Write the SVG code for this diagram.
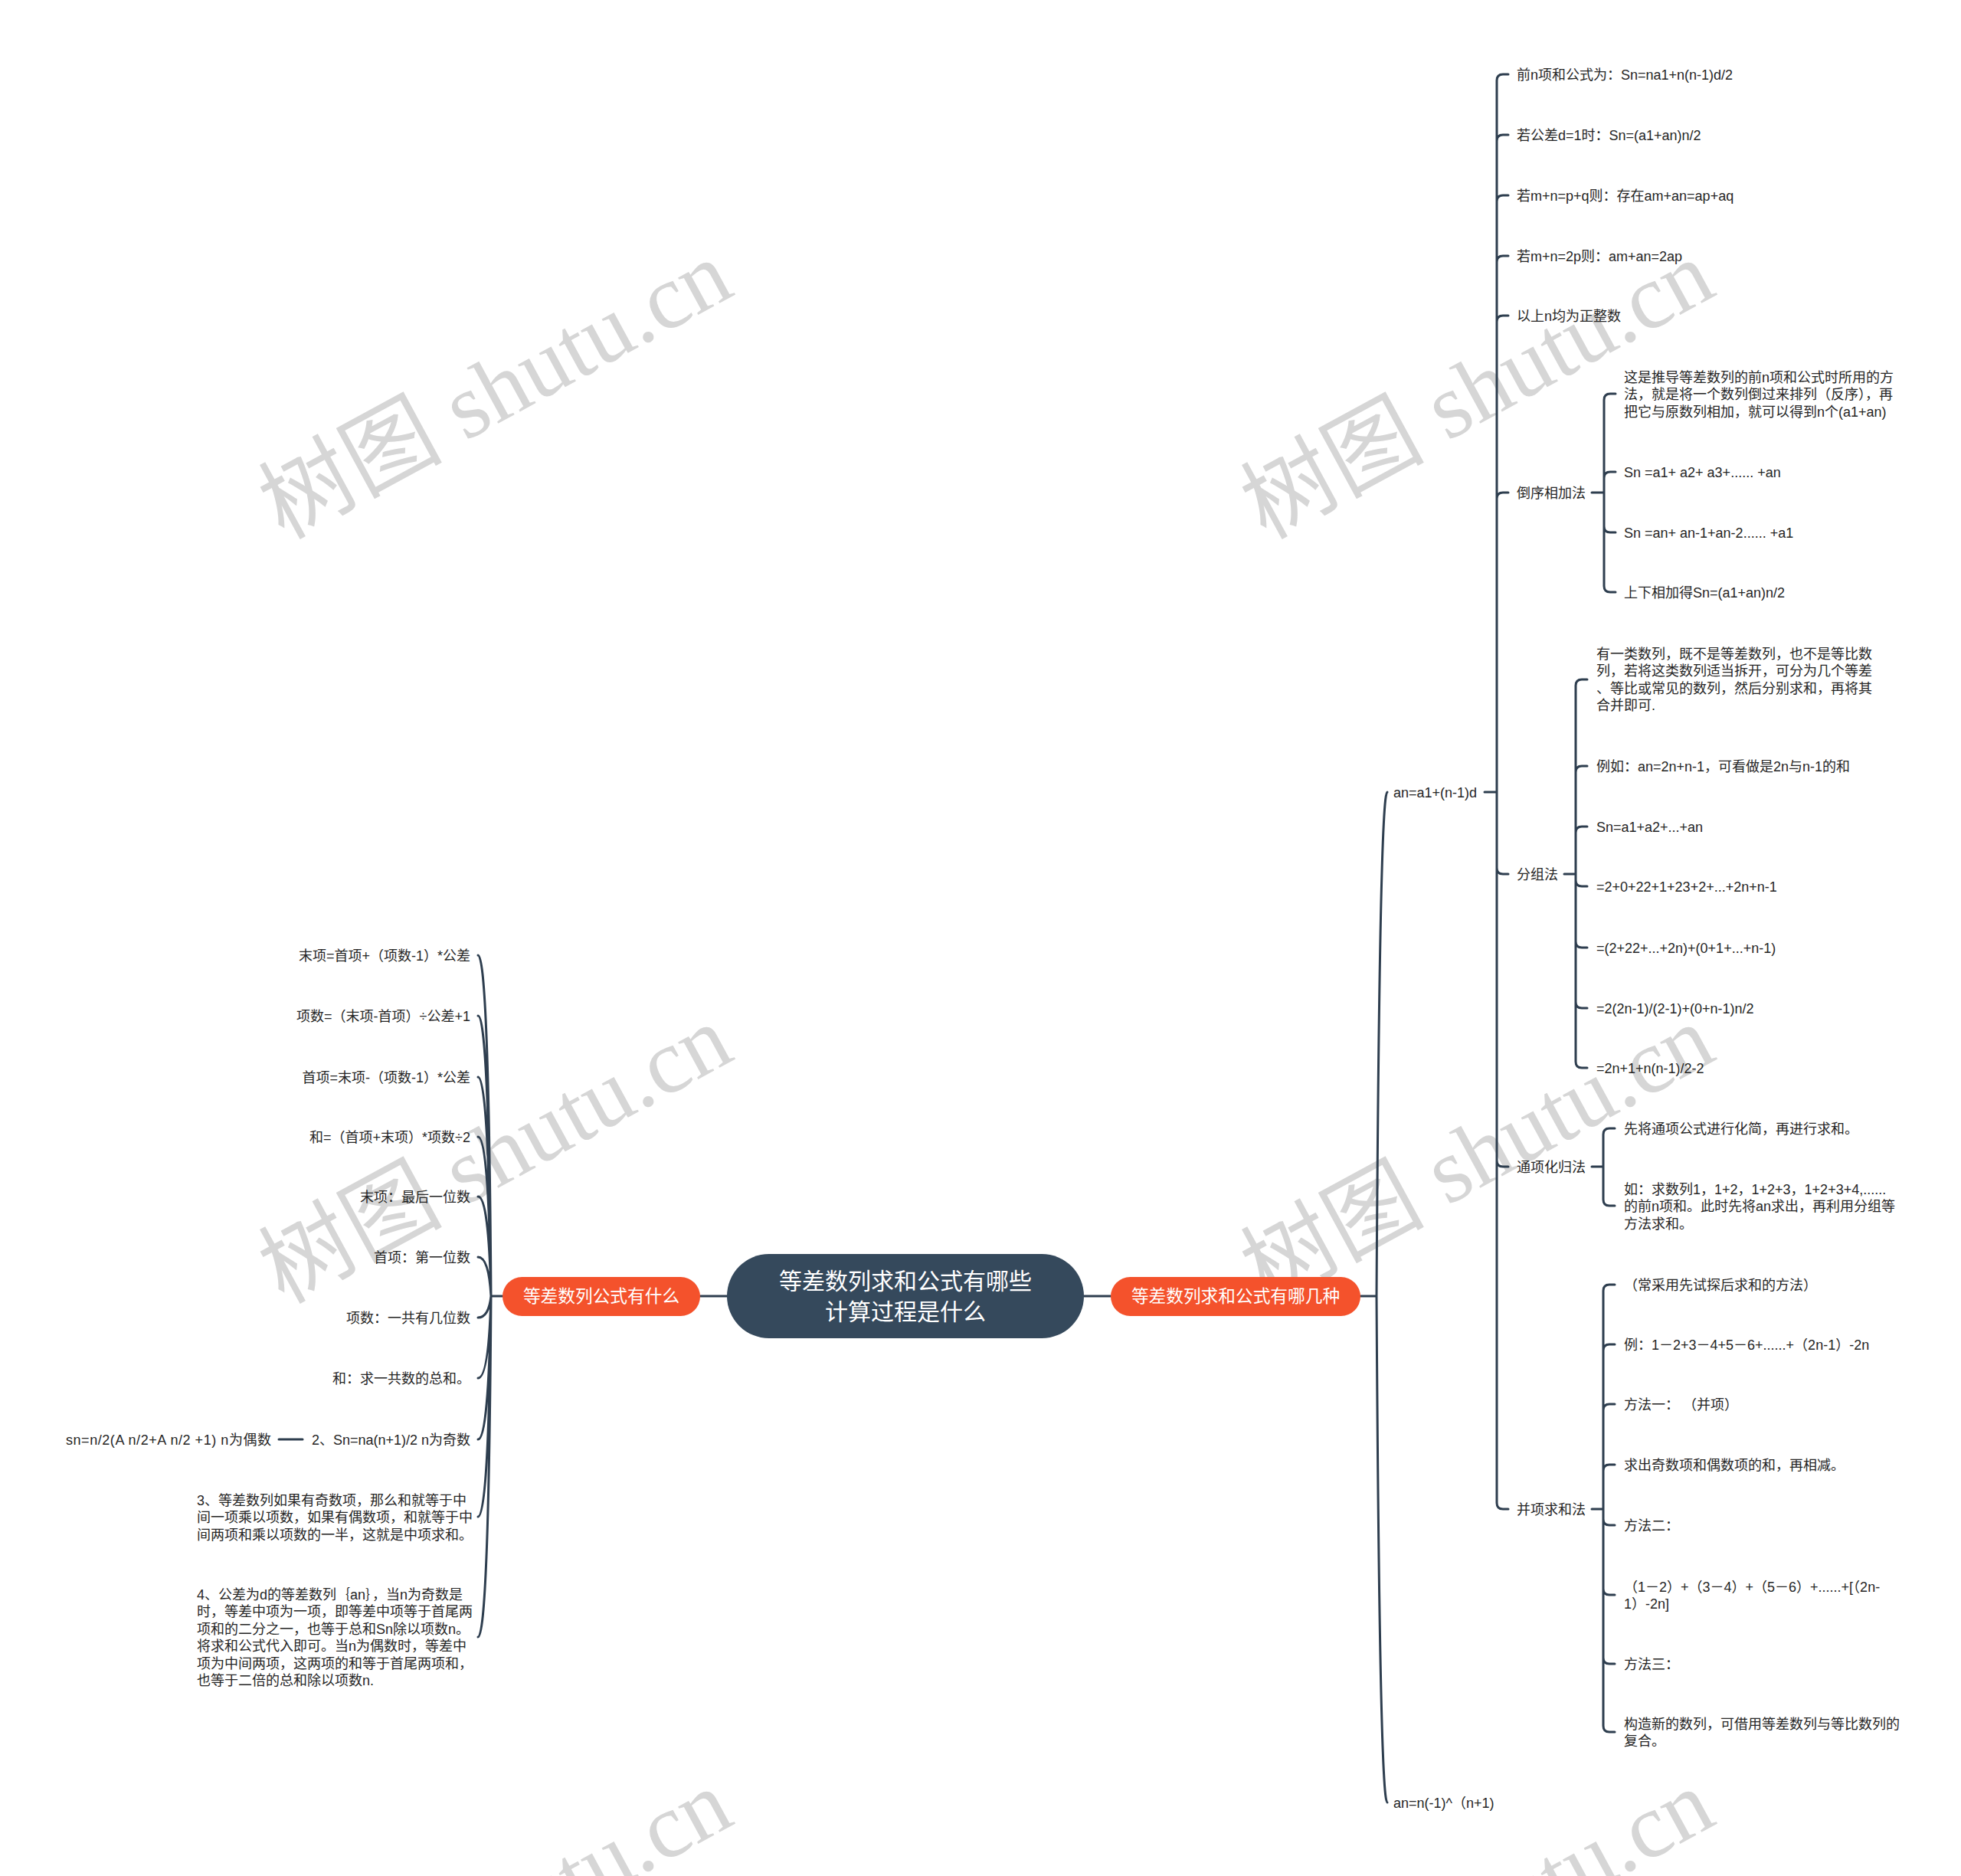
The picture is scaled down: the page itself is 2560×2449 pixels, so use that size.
<svg xmlns="http://www.w3.org/2000/svg" width="2560" height="2449" viewBox="0 0 2560 2449">
<style>
.t{font-family:"Liberation Sans","Noto Sans CJK SC",sans-serif;font-size:18px;fill:#262626}
.e{text-anchor:end}
.c{fill:none;stroke:#2e3e4f;stroke-width:3;stroke-linecap:round}
.wm{font-family:"Liberation Serif","Noto Sans CJK SC",serif;font-size:120px;fill:#d6d6d6}
.ow{font-family:"Liberation Sans","Noto Sans CJK SC",sans-serif;fill:#ffffff;text-anchor:middle}
.org{fill:#f4522c}
</style>
<rect width="2560" height="2449" fill="#ffffff"/>
<g id="watermarks">
<text class="wm" transform="translate(370 705) rotate(-28.5)">树图 shutu.cn</text>
<text class="wm" transform="translate(1652 705) rotate(-28.5)">树图 shutu.cn</text>
<text class="wm" transform="translate(370 1703) rotate(-28.5)">树图 shutu.cn</text>
<text class="wm" transform="translate(1652 1703) rotate(-28.5)">树图 shutu.cn</text>
<text class="wm" transform="translate(370 2701) rotate(-28.5)">树图 shutu.cn</text>
<text class="wm" transform="translate(1652 2701) rotate(-28.5)">树图 shutu.cn</text>
</g>
<g id="connectors">
<path class="c" d="M914 1692H949M1415 1692H1450"/>
<path class="c" d="M1776 1692H1797M1797 1692Q1801 1034 1811 1034M1797 1692Q1801 2353 1811 2353"/>
<path class="c" d="M1938 1034H1954M1954 1034V105Q1954 97 1962 97H1969M1954 1034V184Q1954 176 1962 176H1969M1954 1034V263Q1954 255 1962 255H1969M1954 1034V342Q1954 334 1962 334H1969M1954 1034V420Q1954 412 1962 412H1969M1954 1034V651Q1954 643 1962 643H1969M1954 1034V1133Q1954 1141 1962 1141H1969M1954 1034V1515Q1954 1523 1962 1523H1969M1954 1034V1962Q1954 1970 1962 1970H1969"/>
<path class="c" d="M2078 643H2094M2094 643V522Q2094 514 2102 514H2109M2094 643V624Q2094 616 2102 616H2109M2094 643V687Q2094 695 2102 695H2109M2094 643V765Q2094 773 2102 773H2109"/>
<path class="c" d="M2042 1141H2057M2057 1141V895Q2057 887 2065 887H2072M2057 1141V1008Q2057 1000 2065 1000H2072M2057 1141V1087Q2057 1079 2065 1079H2072M2057 1141V1149Q2057 1157 2065 1157H2072M2057 1141V1229Q2057 1237 2065 1237H2072M2057 1141V1308Q2057 1316 2065 1316H2072M2057 1141V1386Q2057 1394 2065 1394H2072"/>
<path class="c" d="M2078 1523H2093M2093 1523V1481Q2093 1473 2101 1473H2108M2093 1523V1566Q2093 1574 2101 1574H2108"/>
<path class="c" d="M2078 1970H2093M2093 1970V1685Q2093 1677 2101 1677H2108M2093 1970V1763Q2093 1755 2101 1755H2108M2093 1970V1841Q2093 1833 2101 1833H2108M2093 1970V1920Q2093 1912 2101 1912H2108M2093 1970V1983Q2093 1991 2101 1991H2108M2093 1970V2074Q2093 2082 2101 2082H2108M2093 1970V2164Q2093 2172 2101 2172H2108M2093 1970V2253Q2093 2261 2101 2261H2108"/>
<path class="c" d="M656 1692H641M641 1692Q638 1247 624 1247M641 1692Q638 1326 624 1326M641 1692Q638 1406 624 1406M641 1692Q638 1484 624 1484M641 1692Q638 1562 624 1562M641 1692Q638 1641 624 1641M641 1692Q638 1720 624 1720M641 1692Q638 1799 624 1799M641 1692Q638 1879 624 1879M641 1692Q638 1980 624 1980M641 1692Q638 2137 624 2137"/>
<path class="c" d="M364 1879H395"/>
</g>
<g id="center">
<rect x="949" y="1637" width="466" height="110" rx="55" fill="#35495c"/>
<text class="ow" font-size="30" x="1182" y="1683">等差数列求和公式有哪些</text>
<text class="ow" font-size="30" x="1182" y="1723">计算过程是什么</text>
</g>
<g id="left-main">
<rect class="org" x="656" y="1667" width="258" height="51" rx="25.5"/>
<text class="ow" font-size="22.7" x="785" y="1700">等差数列公式有什么</text>
</g>
<g id="right-main">
<rect class="org" x="1450" y="1667" width="326" height="51" rx="25.5"/>
<text class="ow" font-size="22.7" x="1613" y="1700">等差数列求和公式有哪几种</text>
</g>
<g id="r1"><text class="t" x="1819" y="1040.5">an=a1+(n-1)d</text></g>
<g id="r2"><text class="t" x="1819" y="2359.5">an=n(-1)^（n+1)</text></g>
<g id="r1-1"><text class="t" x="1980" y="103.5">前n项和公式为：Sn=na1+n(n-1)d/2</text></g>
<g id="r1-2"><text class="t" x="1980" y="182.5">若公差d=1时：Sn=(a1+an)n/2</text></g>
<g id="r1-3"><text class="t" x="1980" y="261.5">若m+n=p+q则：存在am+an=ap+aq</text></g>
<g id="r1-4"><text class="t" x="1980" y="340.5">若m+n=2p则：am+an=2ap</text></g>
<g id="r1-5"><text class="t" x="1980" y="418.5">以上n均为正整数</text></g>
<g id="r1-6"><text class="t" x="1980" y="649.5">倒序相加法</text></g>
<g id="r1-6-1"><text class="t" x="2120" y="498.5">这是推导等差数列的前n项和公式时所用的方<tspan x="2120" y="521">法，就是将一个数列倒过来排列（反序），再</tspan><tspan x="2120" y="543.5">把它与原数列相加，就可以得到n个(a1+an)</tspan></text></g>
<g id="r1-6-2"><text class="t" x="2120" y="622.5">Sn =a1+ a2+ a3+...... +an</text></g>
<g id="r1-6-3"><text class="t" x="2120" y="701.5">Sn =an+ an-1+an-2...... +a1</text></g>
<g id="r1-6-4"><text class="t" x="2120" y="779.5">上下相加得Sn=(a1+an)n/2</text></g>
<g id="r1-7"><text class="t" x="1980" y="1147.5">分组法</text></g>
<g id="r1-7-1"><text class="t" x="2084" y="859.5">有一类数列，既不是等差数列，也不是等比数<tspan x="2084" y="882">列，若将这类数列适当拆开，可分为几个等差</tspan><tspan x="2084" y="904.5">、等比或常见的数列，然后分别求和，再将其</tspan><tspan x="2084" y="927">合并即可.</tspan></text></g>
<g id="r1-7-2"><text class="t" x="2084" y="1006.5">例如：an=2n+n-1，可看做是2n与n-1的和</text></g>
<g id="r1-7-3"><text class="t" x="2084" y="1085.5">Sn=a1+a2+...+an</text></g>
<g id="r1-7-4"><text class="t" x="2084" y="1163.5">=2+0+22+1+23+2+...+2n+n-1</text></g>
<g id="r1-7-5"><text class="t" x="2084" y="1243.5">=(2+22+...+2n)+(0+1+...+n-1)</text></g>
<g id="r1-7-6"><text class="t" x="2084" y="1322.5">=2(2n-1)/(2-1)+(0+n-1)n/2</text></g>
<g id="r1-7-7"><text class="t" x="2084" y="1400.5">=2n+1+n(n-1)/2-2</text></g>
<g id="r1-8"><text class="t" x="1980" y="1529.5">通项化归法</text></g>
<g id="r1-8-1"><text class="t" x="2120" y="1479.5">先将通项公式进行化简，再进行求和。</text></g>
<g id="r1-8-2"><text class="t" x="2120" y="1558.5">如：求数列1，1+2，1+2+3，1+2+3+4,......<tspan x="2120" y="1581">的前n项和。此时先将an求出，再利用分组等</tspan><tspan x="2120" y="1603.5">方法求和。</tspan></text></g>
<g id="r1-9"><text class="t" x="1980" y="1976.5">并项求和法</text></g>
<g id="r1-9-1"><text class="t" x="2120" y="1683.5">（常采用先试探后求和的方法）</text></g>
<g id="r1-9-2"><text class="t" x="2120" y="1761.5">例：1－2+3－4+5－6+......+（2n-1）-2n</text></g>
<g id="r1-9-3"><text class="t" x="2120" y="1839.5">方法一： （并项）</text></g>
<g id="r1-9-4"><text class="t" x="2120" y="1918.5">求出奇数项和偶数项的和，再相减。</text></g>
<g id="r1-9-5"><text class="t" x="2120" y="1997.5">方法二：</text></g>
<g id="r1-9-6"><text class="t" x="2120" y="2077.5">（1－2）+（3－4）+（5－6）+......+[（2n-<tspan x="2120" y="2100">1）-2n]</tspan></text></g>
<g id="r1-9-7"><text class="t" x="2120" y="2178.5">方法三：</text></g>
<g id="r1-9-8"><text class="t" x="2120" y="2256.5">构造新的数列，可借用等差数列与等比数列的<tspan x="2120" y="2279">复合。</tspan></text></g>
<g id="l1"><text class="t e" x="614" y="1253.5">末项=首项+（项数-1）*公差</text></g>
<g id="l2"><text class="t e" x="614" y="1332.5">项数=（末项-首项）÷公差+1</text></g>
<g id="l3"><text class="t e" x="614" y="1412.5">首项=末项-（项数-1）*公差</text></g>
<g id="l4"><text class="t e" x="614" y="1490.5">和=（首项+末项）*项数÷2</text></g>
<g id="l5"><text class="t e" x="614" y="1568.5">末项：最后一位数</text></g>
<g id="l6"><text class="t e" x="614" y="1647.5">首项：第一位数</text></g>
<g id="l7"><text class="t e" x="614" y="1726.5">项数：一共有几位数</text></g>
<g id="l8"><text class="t e" x="614" y="1805.5">和：求一共数的总和。</text></g>
<g id="l9"><text class="t e" x="614" y="1885.5">2、Sn=na(n+1)/2 n为奇数</text></g>
<g id="l9-1"><text class="t" x="86" y="1885.5" textLength="268" lengthAdjust="spacing">sn=n/2(A n/2+A n/2 +1) n为偶数</text></g>
<g id="l10"><text class="t" x="257" y="1964.5">3、等差数列如果有奇数项，那么和就等于中<tspan x="257" y="1987">间一项乘以项数，如果有偶数项，和就等于中</tspan><tspan x="257" y="2009.5">间两项和乘以项数的一半，这就是中项求和。</tspan></text></g>
<g id="l11"><text class="t" x="257" y="2087.5">4、公差为d的等差数列｛an｝，当n为奇数是<tspan x="257" y="2110">时，等差中项为一项，即等差中项等于首尾两</tspan><tspan x="257" y="2132.5">项和的二分之一，也等于总和Sn除以项数n。</tspan><tspan x="257" y="2155">将求和公式代入即可。当n为偶数时，等差中</tspan><tspan x="257" y="2177.5">项为中间两项，这两项的和等于首尾两项和，</tspan><tspan x="257" y="2200">也等于二倍的总和除以项数n.</tspan></text></g>
</svg>
